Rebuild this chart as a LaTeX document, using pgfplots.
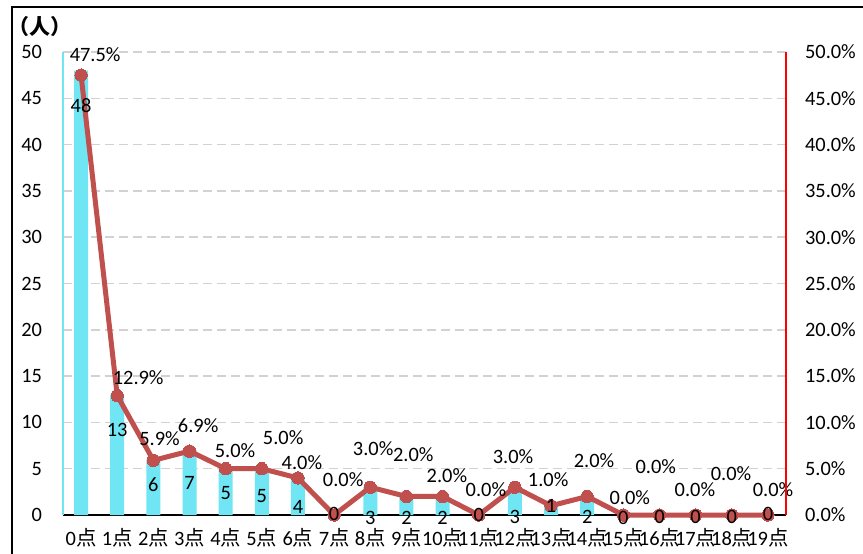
\documentclass[border=0pt]{standalone}
\usepackage{fontspec}
\setmainfont{Carlito}
\newfontfamily\cjk{Noto Sans CJK SC}
\usepackage{pgfplots}
\pgfplotsset{compat=1.18}
\definecolor{barcyan}{RGB}{112,230,244}
\definecolor{linered}{RGB}{192,80,77}
\definecolor{gridgray}{RGB}{210,210,210}
\newcommand\dian{{\cjk 点}}
\begin{document}
\begin{tikzpicture}[font=\fontsize{10.2}{12}\selectfont]
\useasboundingbox (0,0) rectangle (431.5pt,276.5pt);
\begin{axis}[
  at={(31.5pt,19pt)}, anchor=south west,
  scale only axis, width=361.5pt, height=231.5pt,
  xmin=-0.5, xmax=19.5, ymin=0, ymax=50,
  ytick={0,5,...,50},
  xtick={0,...,19},
  xticklabels={0\dian,1\dian,2\dian,3\dian,4\dian,5\dian,6\dian,7\dian,8\dian,9\dian,10\dian,11\dian,12\dian,13\dian,14\dian,15\dian,16\dian,17\dian,18\dian,19\dian},
  axis y line*=left, axis x line*=bottom,
  y axis line style={draw=barcyan, line width=0.6pt},
  x axis line style={draw=black, line width=0.8pt},
  major tick length=0pt,
  ymajorgrids,
  grid style={gridgray, dash pattern=on 4.5pt off 2.5pt, line width=0.75pt},
  /pgf/number format/assume math mode=true,
  yticklabel style={xshift=-7pt},
  xticklabel style={yshift=-3pt},
  clip=false,
]
\addplot[ybar, bar width=7pt, fill=barcyan, draw=none] coordinates {
(0,48) (1,13) (2,6) (3,7) (4,5) (5,5) (6,4) (7,0) (8,3) (9,2)
(10,2) (11,0) (12,3) (13,1) (14,2) (15,0) (16,0) (17,0) (18,0) (19,0)};
\addplot[linered, line width=2.5pt, mark=*, mark size=3.1pt,
  mark options={fill=linered, draw=linered, line width=0pt}] coordinates {
(0,47.5) (1,12.9) (2,5.9) (3,6.9) (4,5.0) (5,5.0) (6,4.0) (7,0) (8,3.0) (9,2.0)
(10,2.0) (11,0) (12,3.0) (13,1.0) (14,2.0) (15,0) (16,0) (17,0) (18,0) (19,0)};
% count labels
\addplot[draw=none, nodes near coords, point meta=explicit symbolic,
  nodes near coords style={anchor=center, black, inner sep=0pt}] coordinates {
(0,44.2) [48] (1,9.2) [13] (2,3.24) [6] (3,3.46) [7] (4,2.38) [5] (5,2.05) [5]
(6,0.86) [4] (7,0.1) [0] (8,-0.3) [3] (9,-0.3) [2] (10,-0.3) [2] (11,0) [0]
(12,-0.2) [3] (13,1.0) [1] (14,-0.2) [2] (15,-0.3) [0] (16,-0.2) [0]
(17,-0.2) [0] (18,-0.2) [0] (19,0.1) [0]};
% percentage labels
\addplot[draw=none, nodes near coords, point meta=explicit symbolic,
  nodes near coords style={anchor=center, black, inner sep=0pt}] coordinates {
(0.39,49.7) [47.5\%] (1.58,14.8) [12.9\%] (2.17,8.3) [5.9\%] (3.24,9.7) [6.9\%]
(4.26,7.0) [5.0\%] (5.59,8.4) [5.0\%] (6.11,5.7) [4.0\%] (7.25,3.8) [0.0\%]
(8.08,7.2) [3.0\%] (9.19,6.5) [2.0\%] (10.12,4.3) [2.0\%] (11.2,2.7) [0.0\%]
(11.95,6.3) [3.0\%] (12.92,3.8) [1.0\%] (14.19,5.9) [2.0\%] (15.18,1.9) [0.0\%]
(15.9,5.2) [0.0\%] (16.98,2.7) [0.0\%] (17.98,4.5) [0.0\%] (19.14,2.7) [0.0\%]};
\end{axis}
\begin{axis}[
  at={(31.5pt,19pt)}, anchor=south west,
  scale only axis, width=361.5pt, height=231.5pt,
  xmin=-0.5, xmax=19.5, ymin=0, ymax=50,
  axis y line*=right, axis x line=none,
  y axis line style={draw=red, line width=0.6pt},
  major tick length=0pt,
  ytick={0,5,...,50},
  yticklabel={\pgfmathprintnumber[fixed,fixed zerofill,precision=1,assume math mode=true]{\tick}\%},
  yticklabel style={xshift=6pt},
]
\end{axis}
\node[anchor=west, inner sep=0pt, font=\cjk\bfseries\fontsize{10.5}{12}\selectfont] at (4pt,263pt) {（人）};
\draw[line width=1pt] (6pt,-10pt) |- (450pt,273pt);
\end{tikzpicture}
\end{document}
